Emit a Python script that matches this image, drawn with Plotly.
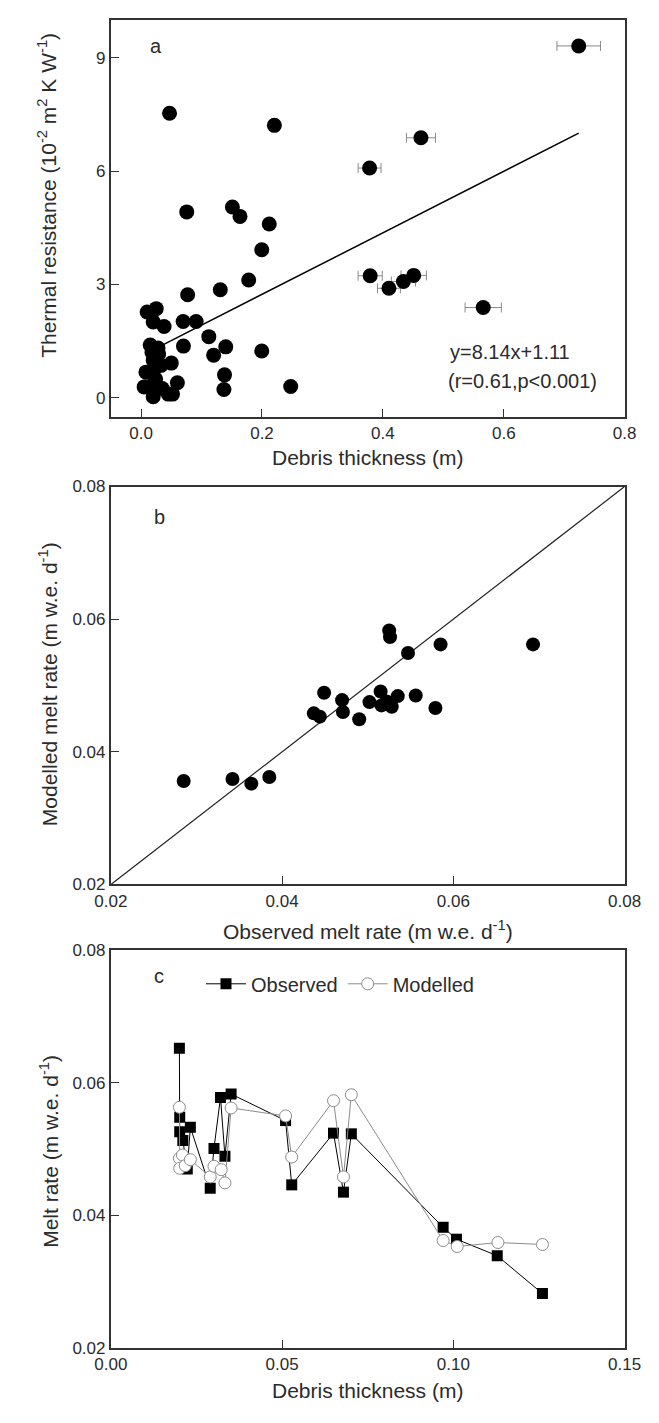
import plotly.graph_objects as go

W, H = 659, 1423

# ---- panel a: debris thickness vs thermal resistance ----
thick_a = [0.724, 0.047, 0.2205, 0.463, 0.378, 0.0755, 0.151, 0.1636, 0.212, 0.1996,
           0.178, 0.379, 0.451, 0.434, 0.410, 0.566, 0.131, 0.077, 0.0695, 0.091,
           0.112, 0.120, 0.140, 0.070, 0.1996, 0.138, 0.137, 0.2475,
           0.010, 0.025, 0.020, 0.038, 0.015, 0.028, 0.029, 0.020, 0.033, 0.008,
           0.022, 0.050, 0.012, 0.022, 0.020, 0.035, 0.045, 0.052, 0.060, 0.005,
           0.018, 0.024]
resist_a = [9.31, 7.53, 7.21, 6.88, 6.08, 4.92, 5.05, 4.80, 4.60, 3.92,
            3.12, 3.23, 3.24, 3.08, 2.90, 2.39, 2.86, 2.73, 2.02, 2.02,
            1.62, 1.13, 1.35, 1.37, 1.24, 0.61, 0.22, 0.30,
            2.27, 2.36, 2.01, 1.89, 1.40, 1.32, 1.16, 0.99, 0.86, 0.68,
            0.77, 0.92, 0.29, 0.21, 0.03, 0.25, 0.10, 0.10, 0.40, 0.29,
            1.20, 0.50]
thick_err_a = [0.036, None, None, 0.024, 0.019, None, None, None, None, None,
               None, 0.020, 0.021, 0.020, 0.019, 0.030, None, None, None, None,
               None, None, None, None, None, None, None, None,
               None, None, None, None, None, None, None, None, None, None,
               None, None, None, None, None, None, None, None, None, None,
               None, None]
slope_a, intercept_a = 8.14, 1.11
fit_start_a = 0.036

# ---- panel b: observed vs modelled melt rate ----
obs_b = [0.0285, 0.0342, 0.0364, 0.0385, 0.0437, 0.0444, 0.0449, 0.0470, 0.0471,
         0.0490, 0.0502, 0.0515, 0.0516, 0.0525, 0.0526, 0.0528, 0.0535, 0.0547,
         0.0556, 0.0579, 0.0585, 0.0693, 0.0522]
mod_b = [0.0356, 0.0359, 0.0352, 0.0362, 0.0458, 0.0453, 0.0489, 0.0478, 0.0460,
         0.0449, 0.0475, 0.0491, 0.0470, 0.0583, 0.0573, 0.0468, 0.0484, 0.0549,
         0.0485, 0.0466, 0.0562, 0.0562, 0.0476]
one_to_one = [0.02, 0.08]

# ---- panel c: melt rate vs debris thickness ----
thick_obs_c = [0.0200, 0.0201, 0.0201, 0.0210, 0.0223, 0.0232, 0.0290, 0.0301, 0.0320,
               0.0333, 0.0351, 0.0510, 0.0528, 0.0650, 0.0679, 0.0702, 0.0970, 0.1009,
               0.1128, 0.1260]
melt_obs_c = [0.0652, 0.0548, 0.0526, 0.0513, 0.0470, 0.0533, 0.0441, 0.0501, 0.0578,
              0.0489, 0.0583, 0.0543, 0.0446, 0.0524, 0.0435, 0.0523, 0.0382, 0.0364,
              0.0339, 0.0282]
thick_mod_c = [0.0200, 0.0200, 0.0201, 0.0209, 0.0217, 0.0232, 0.0290, 0.0301, 0.0322,
               0.0333, 0.0351, 0.0510, 0.0528, 0.0650, 0.0679, 0.0702, 0.0970, 0.1011,
               0.1130, 0.1260]
melt_mod_c = [0.0563, 0.0486, 0.0471, 0.0491, 0.0475, 0.0484, 0.0458, 0.0474, 0.0469,
              0.0449, 0.0562, 0.0550, 0.0488, 0.0573, 0.0458, 0.0582, 0.0362, 0.0353,
              0.0359, 0.0356]

FONT = "Liberation Sans, Arial, sans-serif"
TXT = "#2b2b2b"
FRAME = "#333333"


def px(x):
    return x / W


def py(y):
    return 1 - y / H


fig = go.Figure()

# panel a
fig.add_trace(go.Scatter(
    x=thick_a, y=resist_a, mode="markers", xaxis="x", yaxis="y",
    marker=dict(size=15, color="black"),
    error_x=dict(type="data", array=thick_err_a, color="#8a8a8a", thickness=1, width=5),
    showlegend=False, hoverinfo="x+y"))
fit_x = [fit_start_a, max(thick_a)]
fig.add_trace(go.Scatter(
    x=fit_x, y=[slope_a * v + intercept_a for v in fit_x], mode="lines",
    xaxis="x", yaxis="y", line=dict(color="black", width=1.5), showlegend=False))

# panel b
fig.add_trace(go.Scatter(
    x=one_to_one, y=one_to_one, mode="lines", xaxis="x2", yaxis="y2",
    line=dict(color="#222222", width=1.2), showlegend=False))
fig.add_trace(go.Scatter(
    x=obs_b, y=mod_b, mode="markers", xaxis="x2", yaxis="y2",
    marker=dict(size=14, color="black"), showlegend=False))

# panel c
fig.add_trace(go.Scatter(
    x=thick_obs_c, y=melt_obs_c, mode="lines+markers", name="Observed",
    xaxis="x3", yaxis="y3",
    line=dict(color="black", width=1),
    marker=dict(symbol="square", size=11, color="black")))
fig.add_trace(go.Scatter(
    x=thick_mod_c, y=melt_mod_c, mode="lines+markers", name="Modelled",
    xaxis="x3", yaxis="y3",
    line=dict(color="#8c8c8c", width=1),
    marker=dict(symbol="circle", size=12, color="white",
                line=dict(color="#8c8c8c", width=1))))

x_dom = [px(99), px(640.7)]
rows = {"a": (11, 413.3), "b": (484, 887.3), "c": (954, 1357)}

axis_common = dict(
    showline=True, linecolor=FRAME, linewidth=2, mirror=True,
    ticks="inside", ticklen=8, tickwidth=1.3, tickcolor=FRAME,
    showgrid=False, zeroline=False,
    tickfont=dict(family=FONT, size=17, color=TXT),
)

fig.update_layout(
    width=W, height=H, autosize=False,
    margin=dict(l=0, r=0, t=0, b=0),
    paper_bgcolor="white", plot_bgcolor="white",
    font=dict(family=FONT, size=17, color=TXT),
    xaxis=dict(domain=x_dom, range=[-0.05, 0.8], tickvals=[0, 0.2, 0.4, 0.6, 0.8],
               ticktext=["0.0", "0.2", "0.4", "0.6", "0.8"], anchor="y", **axis_common),
    yaxis=dict(domain=[py(rows["a"][1]), py(rows["a"][0])], range=[-0.5, 10],
               tickvals=[0, 3, 6, 9], anchor="x", **axis_common),
    xaxis2=dict(domain=x_dom, range=[0.02, 0.08], tickvals=[0.02, 0.04, 0.06, 0.08],
                ticktext=["0.02", "0.04", "0.06", "0.08"], anchor="y2", **axis_common),
    yaxis2=dict(domain=[py(rows["b"][1]), py(rows["b"][0])], range=[0.02, 0.08],
                tickvals=[0.02, 0.04, 0.06, 0.08],
                ticktext=["0.02", "0.04", "0.06", "0.08"], anchor="x2", **axis_common),
    xaxis3=dict(domain=x_dom, range=[0, 0.15], tickvals=[0, 0.05, 0.10, 0.15],
                ticktext=["0.00", "0.05", "0.10", "0.15"], anchor="y3", **axis_common),
    yaxis3=dict(domain=[py(rows["c"][1]), py(rows["c"][0])], range=[0.02, 0.08],
                tickvals=[0.02, 0.04, 0.06, 0.08],
                ticktext=["0.02", "0.04", "0.06", "0.08"], anchor="x3", **axis_common),
    legend=dict(orientation="h", x=px(194), y=py(988), xanchor="left", yanchor="middle",
                bgcolor="rgba(0,0,0,0)", font=dict(family=FONT, size=20, color=TXT),
                itemwidth=40, tracegroupgap=0, itemclick=False),
)

title_font = dict(family=FONT, size=21, color=TXT)
label_font = dict(family=FONT, size=20, color=TXT)
eq_font = dict(family=FONT, size=20, color=TXT)
annotations = [
    # panel letters
    dict(text="a", x=px(147), y=py(38), font=label_font),
    dict(text="b", x=px(150), y=py(515), font=label_font),
    dict(text="c", x=px(150), y=py(980), font=label_font),
    # regression equation
    dict(text="y=8.14x+1.11", x=px(454), y=py(348), xanchor="left", font=eq_font),
    dict(text="(r=0.61,p<0.001)", x=px(452), y=py(377), xanchor="left", font=eq_font),
    # axis titles
    dict(text="Debris thickness (m)", x=px(370), y=py(455), font=title_font),
    dict(text="Observed melt rate (m w.e. d<sup>-1</sup>)", x=px(370), y=py(933),
         font=title_font),
    dict(text="Debris thickness (m)", x=px(370), y=py(1400), font=title_font),
    dict(text="Thermal resistance (10<sup>-2</sup> m<sup>2</sup> K W<sup>-1</sup>)",
         x=px(32), y=py(189), textangle=-90, font=title_font),
    dict(text="Modelled melt rate (m w.e. d<sup>-1</sup>)", x=px(33), y=py(684),
         textangle=-90, font=title_font),
    dict(text="Melt rate (m w.e. d<sup>-1</sup>)", x=px(33), y=py(1158),
         textangle=-90, font=title_font),
]
for a in annotations:
    a.update(xref="paper", yref="paper", showarrow=False)
    a.setdefault("xanchor", "center")
    a.setdefault("yanchor", "middle")
fig.update_layout(annotations=annotations)

fig.write_html("out.html")
